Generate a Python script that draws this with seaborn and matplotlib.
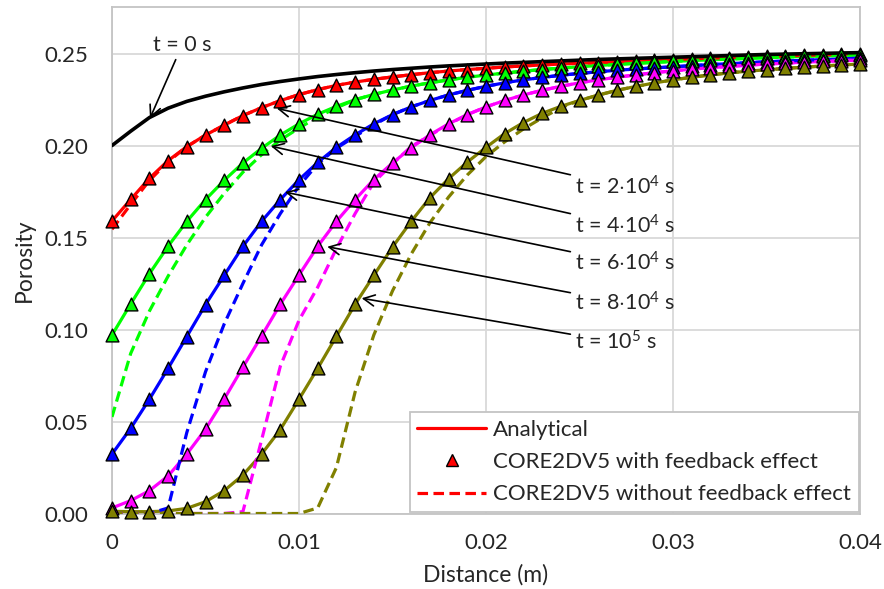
import matplotlib
matplotlib.use("Agg")
import matplotlib.pyplot as plt
import seaborn as sns
from matplotlib.lines import Line2D

# ---------------- data ----------------
distance = [0.000, 0.001, 0.002, 0.003, 0.004, 0.005, 0.006, 0.007, 0.008, 0.009,
            0.010, 0.011, 0.012, 0.013, 0.014, 0.015, 0.016, 0.017, 0.018, 0.019,
            0.020, 0.021, 0.022, 0.023, 0.024, 0.025, 0.026, 0.027, 0.028, 0.029,
            0.030, 0.031, 0.032, 0.033, 0.034, 0.035, 0.036, 0.037, 0.038, 0.039,
            0.040]

# t = 0 s (initial porosity)
phi_t0 = [0.2000, 0.2078, 0.2152, 0.2203, 0.2240, 0.2268, 0.2292, 0.2313, 0.2332, 0.2348,
          0.2362, 0.2375, 0.2386, 0.2396, 0.2405, 0.2413, 0.2420, 0.2427, 0.2433, 0.2438,
          0.2443, 0.2448, 0.2452, 0.2456, 0.2460, 0.2464, 0.2468, 0.2471, 0.2474, 0.2477,
          0.2480, 0.2483, 0.2486, 0.2489, 0.2492, 0.2495, 0.2497, 0.2499, 0.2501, 0.2503,
          0.2505]

# analytical (and CORE2DV5 with feedback, which coincides)
phi_2e4 = [0.1590, 0.1707, 0.1822, 0.1918, 0.1994, 0.2057, 0.2111, 0.2163, 0.2206, 0.2244,
           0.2277, 0.2304, 0.2327, 0.2345, 0.2360, 0.2373, 0.2385, 0.2396, 0.2405, 0.2413,
           0.2420, 0.2427, 0.2433, 0.2438, 0.2443, 0.2447, 0.2451, 0.2455, 0.2459, 0.2463,
           0.2467, 0.2471, 0.2475, 0.2478, 0.2481, 0.2484, 0.2487, 0.2490, 0.2493, 0.2496,
           0.2499]
phi_4e4 = [0.0970, 0.1139, 0.1303, 0.1453, 0.1588, 0.1706, 0.1811, 0.1905, 0.1985, 0.2057,
           0.2118, 0.2170, 0.2213, 0.2249, 0.2278, 0.2302, 0.2323, 0.2341, 0.2357, 0.2371,
           0.2383, 0.2394, 0.2404, 0.2413, 0.2421, 0.2428, 0.2435, 0.2441, 0.2447, 0.2452,
           0.2457, 0.2462, 0.2466, 0.2470, 0.2474, 0.2478, 0.2481, 0.2484, 0.2487, 0.2490,
           0.2493]
phi_6e4 = [0.0323, 0.0463, 0.0621, 0.0789, 0.0962, 0.1135, 0.1294, 0.1452, 0.1588, 0.1706,
           0.1814, 0.1908, 0.1990, 0.2058, 0.2118, 0.2168, 0.2210, 0.2245, 0.2275, 0.2300,
           0.2322, 0.2341, 0.2357, 0.2370, 0.2382, 0.2392, 0.2401, 0.2409, 0.2416, 0.2422,
           0.2428, 0.2434, 0.2440, 0.2445, 0.2450, 0.2455, 0.2459, 0.2463, 0.2467, 0.2471,
           0.2475]
phi_8e4 = [0.0030, 0.0070, 0.0124, 0.0204, 0.0323, 0.0458, 0.0622, 0.0795, 0.0965, 0.1137,
           0.1296, 0.1452, 0.1588, 0.1706, 0.1815, 0.1905, 0.1988, 0.2058, 0.2118, 0.2168,
           0.2210, 0.2245, 0.2275, 0.2300, 0.2322, 0.2341, 0.2357, 0.2371, 0.2384, 0.2396,
           0.2406, 0.2415, 0.2423, 0.2430, 0.2437, 0.2443, 0.2448, 0.2453, 0.2457, 0.2461,
           0.2465]
phi_1e5 = [0.0012, 0.0010, 0.0010, 0.0014, 0.0028, 0.0064, 0.0124, 0.0209, 0.0323, 0.0456,
           0.0621, 0.0789, 0.0963, 0.1137, 0.1294, 0.1448, 0.1588, 0.1716, 0.1820, 0.1910,
           0.1990, 0.2065, 0.2125, 0.2175, 0.2213, 0.2245, 0.2274, 0.2300, 0.2321, 0.2340,
           0.2357, 0.2371, 0.2384, 0.2395, 0.2404, 0.2412, 0.2419, 0.2426, 0.2432, 0.2438,
           0.2443]

# CORE2DV5 without feedback effect (differs only near the front)
nofb_2e4 = [0.1545, 0.1680, 0.1810, 0.1912] + phi_2e4[4:]
nofb_4e4 = [0.0525, 0.0870, 0.1100, 0.1290, 0.1460, 0.1610, 0.1740, 0.1855, 0.1950, 0.2030,
            0.2095, 0.2155, 0.2205] + phi_4e4[13:]
nofb_6e4 = [0.0000, 0.0000, 0.0000, 0.0030, 0.0440, 0.0770, 0.1030, 0.1250, 0.1460, 0.1630,
            0.1780, 0.1900, 0.1985, 0.2050, 0.2112] + phi_6e4[15:]
nofb_8e4 = [0.0000, 0.0000, 0.0000, 0.0000, 0.0000, 0.0000, 0.0000, 0.0010, 0.0400, 0.0800,
            0.1050, 0.1230, 0.1440, 0.1630, 0.1800, 0.1900, 0.1995, 0.2055, 0.2115] + phi_8e4[19:]
nofb_1e5 = [0.0000, 0.0000, 0.0000, 0.0000, 0.0000, 0.0000, 0.0000, 0.0000, 0.0000, 0.0000,
            0.0000, 0.0030, 0.0250, 0.0660, 0.0970, 0.1210, 0.1410, 0.1580, 0.1720, 0.1840,
            0.1940, 0.2020, 0.2090, 0.2150, 0.2205] + phi_1e5[25:]

series_colors = ["#FF0000", "#00FF00", "#0000FF", "#FF00FF", "#808000"]
analytical = [phi_2e4, phi_4e4, phi_6e4, phi_8e4, phi_1e5]
no_feedback = [nofb_2e4, nofb_4e4, nofb_6e4, nofb_8e4, nofb_1e5]

x_ticks = [0.0, 0.01, 0.02, 0.03, 0.04]
x_ticklabels = ["0", "0.01", "0.02", "0.03", "0.04"]
y_ticks = [0.00, 0.05, 0.10, 0.15, 0.20, 0.25]
y_ticklabels = ["0.00", "0.05", "0.10", "0.15", "0.20", "0.25"]

legend_labels = ["Analytical", "CORE2DV5 with feedback effect",
                 "CORE2DV5 without feedback effect"]

# ---------------- style ----------------
sns.set_style("white")
plt.rcParams["font.family"] = ["Lato", "DejaVu Sans"]
plt.rcParams["mathtext.fontset"] = "custom"
plt.rcParams["mathtext.rm"] = "Lato"
plt.rcParams["mathtext.it"] = "Lato:italic"
plt.rcParams["mathtext.bf"] = "Lato:bold"

FS = 16
FS_NOTE = 15.5
DASH = (0, (3.3, 1.7))
LW = 2.3

fig = plt.figure(figsize=(8.84, 5.89), dpi=100)
ax = fig.add_axes([112 / 884, 1 - 513.5 / 589, (860 - 112) / 884, (513.5 - 7) / 589])

# analytical solid lines
for y, c in zip(analytical, series_colors):
    sns.lineplot(x=distance, y=y, ax=ax, color=c, linewidth=LW, sort=False,
                 estimator=None, zorder=3)
# without-feedback dashed lines
for y, c in zip(no_feedback, series_colors):
    sns.lineplot(x=distance, y=y, ax=ax, color=c, linewidth=LW, sort=False,
                 estimator=None, zorder=3.2)
    ax.get_lines()[-1].set_linestyle(DASH)
# t = 0 curve
sns.lineplot(x=distance, y=phi_t0, ax=ax, color="black", linewidth=2.6, sort=False,
             estimator=None, zorder=3.5)
# CORE2DV5 with feedback markers
for k, (y, c) in enumerate(zip(analytical, series_colors)):
    sns.scatterplot(x=distance, y=y, ax=ax, marker="^", s=85, color=c,
                    edgecolor="black", linewidth=1.0, zorder=4 + 0.1 * k,
                    legend=False, clip_on=False)

ax.set_xlim(0, 0.04)
ax.set_ylim(0, 0.2753)
ax.set_xticks(x_ticks)
ax.set_xticklabels(x_ticklabels, fontsize=FS)
ax.set_yticks(y_ticks)
ax.set_yticklabels(y_ticklabels, fontsize=FS)
ax.tick_params(axis="x", length=0, pad=14)
ax.tick_params(axis="y", length=0, pad=17)
ax.grid(True, color="#d9d9d9", linewidth=1.3)
for sp in ax.spines.values():
    sp.set_color("#c4c4c4")
    sp.set_linewidth(1.3)
ax.set_xlabel("Distance (m)", fontsize=FS + 0.5, labelpad=8)
ax.set_ylabel("Porosity", fontsize=FS + 0.5, labelpad=7)

# annotations
arrow = dict(arrowstyle="->", color="black", lw=1.2, shrinkA=1, shrinkB=0,
             mutation_scale=20)
ax.annotate("t = 0 s", xy=(0.00203, 0.2148), xytext=(0.00375, 0.2546),
            ha="center", va="center", fontsize=FS_NOTE, arrowprops=arrow, zorder=6)
notes = [(r"t = 2$\cdot$10$^{4}$ s", (0.00881, 0.2202), 0.1774),
         (r"t = 4$\cdot$10$^{4}$ s", (0.00849, 0.1997), 0.1563),
         (r"t = 6$\cdot$10$^{4}$ s", (0.00925, 0.1747), 0.1361),
         (r"t = 8$\cdot$10$^{4}$ s", (0.01151, 0.1450), 0.1144),
         (r"t = 10$^{5}$ s", (0.01335, 0.1170), 0.0932)]
for txt, tip, ty in notes:
    ax.annotate(txt, xy=tip, xytext=(0.02476, ty), ha="left", va="center",
                fontsize=FS_NOTE, arrowprops=arrow, zorder=6)

handles = [Line2D([], [], color="#FF0000", lw=LW),
           Line2D([], [], color="#FF0000", marker="^", ls="none", ms=9,
                  mec="black", mew=1.0),
           Line2D([], [], color="#FF0000", lw=LW, ls=DASH)]
leg = ax.legend(handles, legend_labels, loc="lower right", fontsize=FS,
                frameon=True, fancybox=False, framealpha=1, edgecolor="#c4c4c4",
                borderaxespad=0.06, handlelength=3.1, handletextpad=0.3,
                labelspacing=0.56, borderpad=0.35)
leg.set_zorder(10)
leg.get_frame().set_linewidth(1.3)

fig.savefig("out.png", dpi=100)
